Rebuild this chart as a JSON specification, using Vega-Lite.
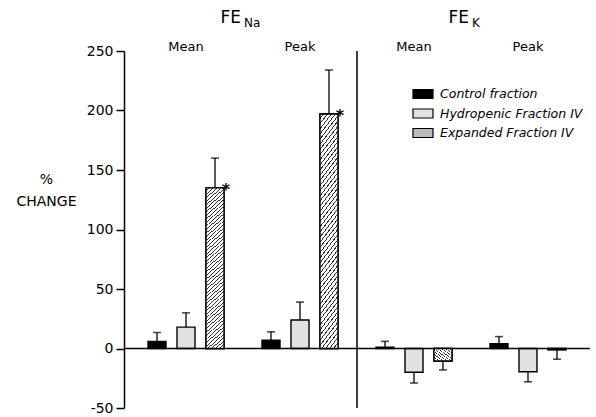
{
  "$schema": "https://vega.github.io/schema/vega-lite/v6.json",
  "width": 466,
  "height": 357,
  "autosize": {"type": "none"},
  "padding": {"left": 124, "top": 51, "right": 6, "bottom": 9},
  "background": "white",
  "config": {"font": "DejaVu Sans", "view": {"stroke": null}, "axis": {"grid": false}},
  "datasets": {
    "bars": [
      {"group": "Na Mean", "fraction": "Control fraction", "value": 6, "err": 13.5, "sig": ""},
      {"group": "Na Mean", "fraction": "Hydropenic Fraction IV", "value": 18, "err": 30, "sig": ""},
      {"group": "Na Mean", "fraction": "Expanded Fraction IV", "value": 135, "err": 160, "sig": "*"},
      {"group": "Na Peak", "fraction": "Control fraction", "value": 7, "err": 14, "sig": ""},
      {"group": "Na Peak", "fraction": "Hydropenic Fraction IV", "value": 24, "err": 39, "sig": ""},
      {"group": "Na Peak", "fraction": "Expanded Fraction IV", "value": 197, "err": 234, "sig": "*"},
      {"group": "K Mean", "fraction": "Control fraction", "value": 1, "err": 6, "sig": ""},
      {"group": "K Mean", "fraction": "Hydropenic Fraction IV", "value": -20, "err": -29, "sig": ""},
      {"group": "K Mean", "fraction": "Expanded Fraction IV", "value": -10.5, "err": -18, "sig": ""},
      {"group": "K Peak", "fraction": "Control fraction", "value": 4, "err": 10, "sig": ""},
      {"group": "K Peak", "fraction": "Hydropenic Fraction IV", "value": -19.5, "err": -28, "sig": ""},
      {"group": "K Peak", "fraction": "Expanded Fraction IV", "value": -1, "err": -9, "sig": ""}
    ],
    "headers": [
      {"group": "Na Peak", "main": "FE", "sub": "Na"},
      {"group": "K Peak", "main": "FE", "sub": "K"}
    ]
  },
  "layer": [
    {
      "data": {"name": "bars"},
      "mark": {"type": "bar", "stroke": "black", "strokeWidth": 1.4},
      "encoding": {
        "x": {"field": "group", "type": "nominal", "scale": {"domain": ["Na Mean", "Na Peak", "K Mean", "K Peak"], "paddingInner": 0, "paddingOuter": 0.044},
          "axis": {"orient": "top", "domain": false, "ticks": false, "labelExpr": "split(datum.label, ' ')[1]", "labelFontSize": 13, "labelPadding": 1, "labelBaseline": "alphabetic", "labelAngle": 0, "labelColor": "black", "title": null}},
        "xOffset": {"field": "fraction", "type": "nominal", "scale": {"domain": ["Control fraction", "Hydropenic Fraction IV", "Expanded Fraction IV"], "paddingInner": 0.379, "paddingOuter": 0.655}},
        "y": {"field": "value", "type": "quantitative", "scale": {"domain": [-50, 250], "nice": false, "zero": false},
          "axis": {"values": [-50, 0, 50, 100, 150, 200, 250], "labelExpr": "toString(datum.value)", "tickSize": 8, "tickWidth": 1.5, "domainWidth": 1.5, "domainColor": "black", "tickColor": "black", "labelFontSize": 14, "labelColor": "black", "labelPadding": 3,
            "title": ["%", "CHANGE"], "titleAngle": 0, "titleX": -78, "titleY": 121, "titleAlign": "center", "titleBaseline": "top", "titleFontSize": 14, "titleFontWeight": "normal", "titleLineHeight": 22, "titleColor": "black"}},
        "fill": {"field": "fraction", "type": "nominal",
          "scale": {"domain": ["Control fraction", "Hydropenic Fraction IV", "Expanded Fraction IV"], "range": ["#000000", "#e2e2e2", "#bcbcbc"]},
          "legend": {"orient": "none", "legendX": 288, "legendY": 32, "title": null, "padding": 0, "symbolType": "M-1,-0.45H1V0.45H-1Z", "symbolSize": 400, "symbolStrokeColor": "black", "symbolStrokeWidth": 1.2, "labelFontStyle": "italic", "labelFontSize": 12.5, "labelColor": "black", "labelOffset": 6, "rowPadding": 1.5}}
      }
    },
    {
      "data": {"values": [{}]},
      "mark": {"type": "rule", "color": "black", "strokeWidth": 1.5},
      "encoding": {
        "y": {"datum": 0, "type": "quantitative", "scale": {"domain": [-50, 250], "nice": false, "zero": false}}
      }
    },
    {
      "data": {"name": "bars"},
      "transform": [{"filter": "datum.fraction == 'Expanded Fraction IV'"}],
      "mark": {"type": "bar", "stroke": "black", "strokeWidth": 1.4,
        "fill": {"gradient": "linear", "x1": 0, "y1": 0, "x2": 0.109, "y2": 1.089, "stops": [
          {"offset": 0, "color": "#fff"}, {"offset": 0.0145, "color": "#fff"}, {"offset": 0.0145, "color": "#333"}, {"offset": 0.02, "color": "#333"},
          {"offset": 0.02, "color": "#fff"}, {"offset": 0.0345, "color": "#fff"}, {"offset": 0.0345, "color": "#333"}, {"offset": 0.04, "color": "#333"},
          {"offset": 0.04, "color": "#fff"}, {"offset": 0.0545, "color": "#fff"}, {"offset": 0.0545, "color": "#333"}, {"offset": 0.06, "color": "#333"},
          {"offset": 0.06, "color": "#fff"}, {"offset": 0.0745, "color": "#fff"}, {"offset": 0.0745, "color": "#333"}, {"offset": 0.08, "color": "#333"},
          {"offset": 0.08, "color": "#fff"}, {"offset": 0.0945, "color": "#fff"}, {"offset": 0.0945, "color": "#333"}, {"offset": 0.1, "color": "#333"},
          {"offset": 0.1, "color": "#fff"}, {"offset": 0.1145, "color": "#fff"}, {"offset": 0.1145, "color": "#333"}, {"offset": 0.12, "color": "#333"},
          {"offset": 0.12, "color": "#fff"}, {"offset": 0.1345, "color": "#fff"}, {"offset": 0.1345, "color": "#333"}, {"offset": 0.14, "color": "#333"},
          {"offset": 0.14, "color": "#fff"}, {"offset": 0.1545, "color": "#fff"}, {"offset": 0.1545, "color": "#333"}, {"offset": 0.16, "color": "#333"},
          {"offset": 0.16, "color": "#fff"}, {"offset": 0.1745, "color": "#fff"}, {"offset": 0.1745, "color": "#333"}, {"offset": 0.18, "color": "#333"},
          {"offset": 0.18, "color": "#fff"}, {"offset": 0.1945, "color": "#fff"}, {"offset": 0.1945, "color": "#333"}, {"offset": 0.2, "color": "#333"},
          {"offset": 0.2, "color": "#fff"}, {"offset": 0.2145, "color": "#fff"}, {"offset": 0.2145, "color": "#333"}, {"offset": 0.22, "color": "#333"},
          {"offset": 0.22, "color": "#fff"}, {"offset": 0.2345, "color": "#fff"}, {"offset": 0.2345, "color": "#333"}, {"offset": 0.24, "color": "#333"},
          {"offset": 0.24, "color": "#fff"}, {"offset": 0.2545, "color": "#fff"}, {"offset": 0.2545, "color": "#333"}, {"offset": 0.26, "color": "#333"},
          {"offset": 0.26, "color": "#fff"}, {"offset": 0.2745, "color": "#fff"}, {"offset": 0.2745, "color": "#333"}, {"offset": 0.28, "color": "#333"},
          {"offset": 0.28, "color": "#fff"}, {"offset": 0.2945, "color": "#fff"}, {"offset": 0.2945, "color": "#333"}, {"offset": 0.3, "color": "#333"},
          {"offset": 0.3, "color": "#fff"}, {"offset": 0.3145, "color": "#fff"}, {"offset": 0.3145, "color": "#333"}, {"offset": 0.32, "color": "#333"},
          {"offset": 0.32, "color": "#fff"}, {"offset": 0.3345, "color": "#fff"}, {"offset": 0.3345, "color": "#333"}, {"offset": 0.34, "color": "#333"},
          {"offset": 0.34, "color": "#fff"}, {"offset": 0.3545, "color": "#fff"}, {"offset": 0.3545, "color": "#333"}, {"offset": 0.36, "color": "#333"},
          {"offset": 0.36, "color": "#fff"}, {"offset": 0.3745, "color": "#fff"}, {"offset": 0.3745, "color": "#333"}, {"offset": 0.38, "color": "#333"},
          {"offset": 0.38, "color": "#fff"}, {"offset": 0.3945, "color": "#fff"}, {"offset": 0.3945, "color": "#333"}, {"offset": 0.4, "color": "#333"},
          {"offset": 0.4, "color": "#fff"}, {"offset": 0.4145, "color": "#fff"}, {"offset": 0.4145, "color": "#333"}, {"offset": 0.42, "color": "#333"},
          {"offset": 0.42, "color": "#fff"}, {"offset": 0.4345, "color": "#fff"}, {"offset": 0.4345, "color": "#333"}, {"offset": 0.44, "color": "#333"},
          {"offset": 0.44, "color": "#fff"}, {"offset": 0.4545, "color": "#fff"}, {"offset": 0.4545, "color": "#333"}, {"offset": 0.46, "color": "#333"},
          {"offset": 0.46, "color": "#fff"}, {"offset": 0.4745, "color": "#fff"}, {"offset": 0.4745, "color": "#333"}, {"offset": 0.48, "color": "#333"},
          {"offset": 0.48, "color": "#fff"}, {"offset": 0.4945, "color": "#fff"}, {"offset": 0.4945, "color": "#333"}, {"offset": 0.5, "color": "#333"},
          {"offset": 0.5, "color": "#fff"}, {"offset": 0.5145, "color": "#fff"}, {"offset": 0.5145, "color": "#333"}, {"offset": 0.52, "color": "#333"},
          {"offset": 0.52, "color": "#fff"}, {"offset": 0.5345, "color": "#fff"}, {"offset": 0.5345, "color": "#333"}, {"offset": 0.54, "color": "#333"},
          {"offset": 0.54, "color": "#fff"}, {"offset": 0.5545, "color": "#fff"}, {"offset": 0.5545, "color": "#333"}, {"offset": 0.56, "color": "#333"},
          {"offset": 0.56, "color": "#fff"}, {"offset": 0.5745, "color": "#fff"}, {"offset": 0.5745, "color": "#333"}, {"offset": 0.58, "color": "#333"},
          {"offset": 0.58, "color": "#fff"}, {"offset": 0.5945, "color": "#fff"}, {"offset": 0.5945, "color": "#333"}, {"offset": 0.6, "color": "#333"},
          {"offset": 0.6, "color": "#fff"}, {"offset": 0.6145, "color": "#fff"}, {"offset": 0.6145, "color": "#333"}, {"offset": 0.62, "color": "#333"},
          {"offset": 0.62, "color": "#fff"}, {"offset": 0.6345, "color": "#fff"}, {"offset": 0.6345, "color": "#333"}, {"offset": 0.64, "color": "#333"},
          {"offset": 0.64, "color": "#fff"}, {"offset": 0.6545, "color": "#fff"}, {"offset": 0.6545, "color": "#333"}, {"offset": 0.66, "color": "#333"},
          {"offset": 0.66, "color": "#fff"}, {"offset": 0.6745, "color": "#fff"}, {"offset": 0.6745, "color": "#333"}, {"offset": 0.68, "color": "#333"},
          {"offset": 0.68, "color": "#fff"}, {"offset": 0.6945, "color": "#fff"}, {"offset": 0.6945, "color": "#333"}, {"offset": 0.7, "color": "#333"},
          {"offset": 0.7, "color": "#fff"}, {"offset": 0.7145, "color": "#fff"}, {"offset": 0.7145, "color": "#333"}, {"offset": 0.72, "color": "#333"},
          {"offset": 0.72, "color": "#fff"}, {"offset": 0.7345, "color": "#fff"}, {"offset": 0.7345, "color": "#333"}, {"offset": 0.74, "color": "#333"},
          {"offset": 0.74, "color": "#fff"}, {"offset": 0.7545, "color": "#fff"}, {"offset": 0.7545, "color": "#333"}, {"offset": 0.76, "color": "#333"},
          {"offset": 0.76, "color": "#fff"}, {"offset": 0.7745, "color": "#fff"}, {"offset": 0.7745, "color": "#333"}, {"offset": 0.78, "color": "#333"},
          {"offset": 0.78, "color": "#fff"}, {"offset": 0.7945, "color": "#fff"}, {"offset": 0.7945, "color": "#333"}, {"offset": 0.8, "color": "#333"},
          {"offset": 0.8, "color": "#fff"}, {"offset": 0.8145, "color": "#fff"}, {"offset": 0.8145, "color": "#333"}, {"offset": 0.82, "color": "#333"},
          {"offset": 0.82, "color": "#fff"}, {"offset": 0.8345, "color": "#fff"}, {"offset": 0.8345, "color": "#333"}, {"offset": 0.84, "color": "#333"},
          {"offset": 0.84, "color": "#fff"}, {"offset": 0.8545, "color": "#fff"}, {"offset": 0.8545, "color": "#333"}, {"offset": 0.86, "color": "#333"},
          {"offset": 0.86, "color": "#fff"}, {"offset": 0.8745, "color": "#fff"}, {"offset": 0.8745, "color": "#333"}, {"offset": 0.88, "color": "#333"},
          {"offset": 0.88, "color": "#fff"}, {"offset": 0.8945, "color": "#fff"}, {"offset": 0.8945, "color": "#333"}, {"offset": 0.9, "color": "#333"},
          {"offset": 0.9, "color": "#fff"}, {"offset": 0.9145, "color": "#fff"}, {"offset": 0.9145, "color": "#333"}, {"offset": 0.92, "color": "#333"},
          {"offset": 0.92, "color": "#fff"}, {"offset": 0.9345, "color": "#fff"}, {"offset": 0.9345, "color": "#333"}, {"offset": 0.94, "color": "#333"},
          {"offset": 0.94, "color": "#fff"}, {"offset": 0.9545, "color": "#fff"}, {"offset": 0.9545, "color": "#333"}, {"offset": 0.96, "color": "#333"},
          {"offset": 0.96, "color": "#fff"}, {"offset": 0.9745, "color": "#fff"}, {"offset": 0.9745, "color": "#333"}, {"offset": 0.98, "color": "#333"},
          {"offset": 0.98, "color": "#fff"}, {"offset": 0.9945, "color": "#fff"}, {"offset": 0.9945, "color": "#333"}, {"offset": 1, "color": "#333"}
        ]}},
      "encoding": {
        "x": {"field": "group", "type": "nominal", "scale": {"domain": ["Na Mean", "Na Peak", "K Mean", "K Peak"], "paddingInner": 0, "paddingOuter": 0.044}},
        "xOffset": {"field": "fraction", "type": "nominal", "scale": {"domain": ["Control fraction", "Hydropenic Fraction IV", "Expanded Fraction IV"], "paddingInner": 0.379, "paddingOuter": 0.655}},
        "y": {"field": "value", "type": "quantitative", "scale": {"domain": [-50, 250], "nice": false, "zero": false}}
      }
    },
    {
      "data": {"name": "bars"},
      "mark": {"type": "rule", "color": "black", "strokeWidth": 1.3},
      "encoding": {
        "x": {"field": "group", "type": "nominal", "scale": {"domain": ["Na Mean", "Na Peak", "K Mean", "K Peak"], "paddingInner": 0, "paddingOuter": 0.044}},
        "xOffset": {"field": "fraction", "type": "nominal", "scale": {"domain": ["Control fraction", "Hydropenic Fraction IV", "Expanded Fraction IV"], "paddingInner": 0.379, "paddingOuter": 0.655}},
        "y": {"field": "value", "type": "quantitative", "scale": {"domain": [-50, 250], "nice": false, "zero": false}},
        "y2": {"field": "err"}
      }
    },
    {
      "data": {"name": "bars"},
      "mark": {"type": "tick", "color": "black", "size": 8, "thickness": 1.6},
      "encoding": {
        "x": {"field": "group", "type": "nominal", "scale": {"domain": ["Na Mean", "Na Peak", "K Mean", "K Peak"], "paddingInner": 0, "paddingOuter": 0.044}},
        "xOffset": {"field": "fraction", "type": "nominal", "scale": {"domain": ["Control fraction", "Hydropenic Fraction IV", "Expanded Fraction IV"], "paddingInner": 0.379, "paddingOuter": 0.655}},
        "y": {"field": "err", "type": "quantitative", "scale": {"domain": [-50, 250], "nice": false, "zero": false}}
      }
    },
    {
      "data": {"name": "bars"},
      "mark": {"type": "text", "color": "black", "fill": "black", "fontSize": 16, "fontWeight": "bold", "align": "center", "baseline": "alphabetic", "dx": 11, "dy": 7},
      "encoding": {
        "x": {"field": "group", "type": "nominal", "scale": {"domain": ["Na Mean", "Na Peak", "K Mean", "K Peak"], "paddingInner": 0, "paddingOuter": 0.044}},
        "xOffset": {"field": "fraction", "type": "nominal", "scale": {"domain": ["Control fraction", "Hydropenic Fraction IV", "Expanded Fraction IV"], "paddingInner": 0.379, "paddingOuter": 0.655}},
        "y": {"field": "value", "type": "quantitative", "scale": {"domain": [-50, 250], "nice": false, "zero": false}},
        "text": {"field": "sig"}
      }
    },
    {
      "data": {"name": "headers"},
      "mark": {"type": "text", "color": "black", "fontSize": 17, "align": "right", "baseline": "middle", "dx": -2, "dy": 2},
      "encoding": {
        "x": {"field": "group", "type": "nominal", "bandPosition": 0, "scale": {"domain": ["Na Mean", "Na Peak", "K Mean", "K Peak"], "paddingInner": 0, "paddingOuter": 0.044}},
        "y": {"datum": 279, "type": "quantitative", "scale": {"domain": [-50, 250], "nice": false, "zero": false}},
        "text": {"field": "main"}
      }
    },
    {
      "data": {"name": "headers"},
      "mark": {"type": "text", "color": "black", "fontSize": 12, "align": "left", "baseline": "middle", "dx": 1, "dy": 7},
      "encoding": {
        "x": {"field": "group", "type": "nominal", "bandPosition": 0, "scale": {"domain": ["Na Mean", "Na Peak", "K Mean", "K Peak"], "paddingInner": 0, "paddingOuter": 0.044}},
        "y": {"datum": 279, "type": "quantitative", "scale": {"domain": [-50, 250], "nice": false, "zero": false}},
        "text": {"field": "sub"}
      }
    },
    {
      "data": {"values": [{"group": "K Mean"}]},
      "mark": {"type": "rule", "color": "black", "strokeWidth": 1.5},
      "encoding": {
        "x": {"field": "group", "type": "nominal", "bandPosition": 0, "scale": {"domain": ["Na Mean", "Na Peak", "K Mean", "K Peak"], "paddingInner": 0, "paddingOuter": 0.044}}
      }
    }
  ]
}
